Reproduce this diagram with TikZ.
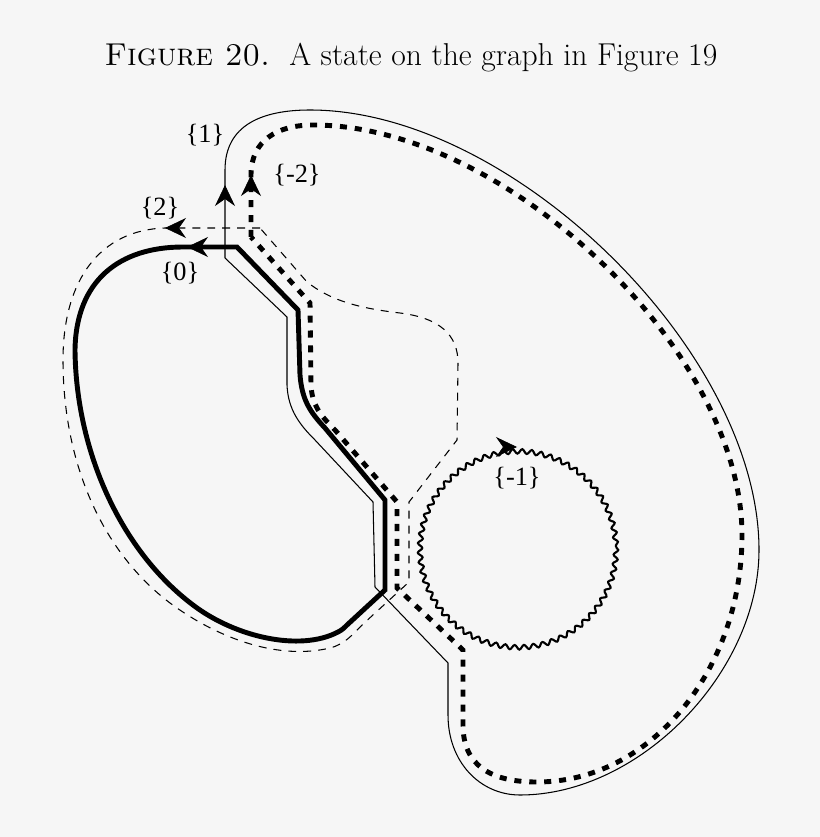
\documentclass[tikz,border=0pt]{standalone}
\usepackage{fontspec}
\newfontfamily\labelfont{Liberation Serif}
\usepackage{xcolor}
\usepackage{tikz}
\usetikzlibrary{arrows.meta}
\usetikzlibrary{decorations.markings,decorations.pathmorphing}
\definecolor{paper}{HTML}{F6F6F6}

\tikzset{
  headtip/.tip={Stealth[length=0.42cm,width=0.4cm,inset=0.14cm]},
  thinline/.style={line width=0.6pt},
  thickline/.style={line width=2.8pt},
  dotline/.style={line width=2.8pt,dash pattern=on 4pt off 4.5pt},
  dashline/.style={line width=0.6pt,dash pattern=on 4.5pt off 4pt},
  waveline/.style={line width=1.2pt,decorate,decoration={snake,amplitude=0.045cm,segment length=0.19cm}},
  tipmark/.style={decorate,decoration={markings,mark=at position 1 with {\arrow{headtip}}}},
  lab/.style={font=\labelfont\fontsize{15}{18}\selectfont},
}

\begin{document}
\begin{tikzpicture}[x=0.02cm,y=-0.02cm]
	\fill[paper] (0,0) rectangle (820,837);
	\useasboundingbox (0,0) rectangle (820,837);
	\node (caption) at (411,58) {\fontsize{18}{21}\selectfont\textsc{Figure 20.}\ \ A state on the graph in Figure 19};
	% outer thin loop {1}
	\draw[thinline] (225,258) -- (225,170) .. controls (225,125) and (262,110) .. (310,110)
		.. controls (512,110) and (759,352) .. (759,550)
		.. controls (759,672) and (640,795) .. (520,795)
		.. controls (480,795) and (448,762) .. (448,715)
		-- (448,663) -- (375,587) -- (373,502) -- (315,440) .. controls (300,425) and (288,410) .. (287,385) -- (287,317) -- cycle;
	% dotted loop {-2}
	\draw[dotline] (251,237) -- (251,175) .. controls (251,140) and (278,125) .. (313,125)
		.. controls (506,125) and (742,351) .. (742,535)
		.. controls (742,671) and (650,782) .. (537,782)
		.. controls (490,782) and (463,765) .. (463,725)
		-- (463,650) -- (397,588) -- (397,502) -- (335,430) .. controls (320,415) and (312,405) .. (311,385) -- (310,303) -- cycle;
	% thick loop {0}
	\draw[thickline] (237,247) -- (183,247) .. controls (120,247) and (76,280) .. (75,350)
		.. controls (76,450) and (120,550) .. (193,605)
		.. controls (235,637) and (300,652) .. (338,632)
		.. controls (342,630) and (344,628) .. (347,625)
		-- (385,590) -- (385,500) -- (325,428) .. controls (310,412) and (302,400) .. (300,375) -- (298,310) -- cycle;
	% dashed loop {2}
	\draw[dashline] (260,228) -- (165,228) .. controls (100,230) and (63,280) .. (63,360)
		.. controls (63,460) and (100,550) .. (170,603)
		.. controls (220,640) and (280,660) .. (330,648)
		.. controls (345,644) and (352,635) .. (362,625)
		-- (409,582) -- (409,502) -- (457,440) -- (458,363) .. controls (458,335) and (440,318) .. (400,313) .. controls (357,308) and (330,300) .. (307,282) -- cycle;
	% wavy loop {-1}
	\draw[waveline] (518,547) circle[radius=98];
	% arrow heads
	\path[tipmark] (225,200) -- (225,185);
	\path[tipmark] (251,190) -- (251,175);
	\path[tipmark] (200,247) -- (187,247);
	\path[tipmark] (180,228) -- (165,228);
	\path[tipmark] (500,447) -- (517,447);
	\node[lab] (one) at (205,135) {\{1\}};
	\node[lab] (mtwo) at (297,175) {\{-2\}};
	\node[lab] (two) at (160,208) {\{2\}};
	\node[lab] (zero) at (180,273) {\{0\}};
	\node[lab] (mone) at (517,478) {\{-1\}};
\end{tikzpicture}
\end{document}
